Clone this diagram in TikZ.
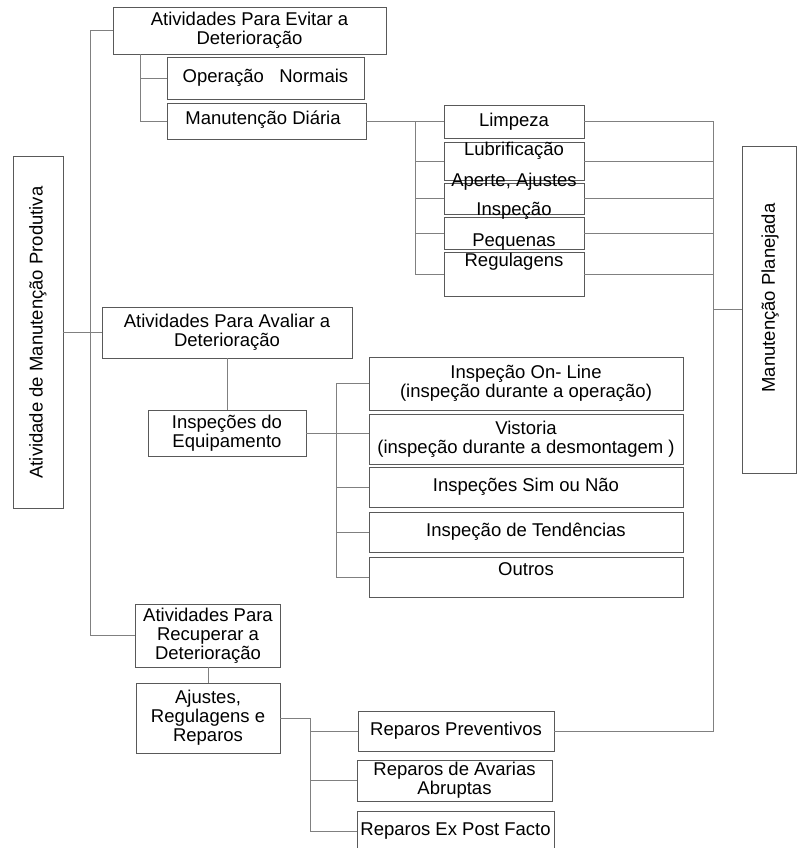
\documentclass[tikz,border=0pt]{standalone}
\usepackage{fontspec}
\setmainfont{Liberation Sans}
\tikzset{
    caixa/.style={draw=black!65, line width=0.9pt, inner sep=0pt, align=center,
        font=\fontsize{18.5}{19}\selectfont},
    rotulo/.style={inner sep=0pt, align=center, font=\fontsize{18.5}{19}\selectfont},
    liga/.style={draw=black!50, line width=0.8pt}
}
\begin{document}
\begin{tikzpicture}[x=1pt, y=-1pt]
\useasboundingbox (0,0) rectangle (804,848);
\clip (0,0) rectangle (804,848);
\coordinate (tronco) at (90,0);
\coordinate (ramoA) at (140,0);
\coordinate (ramoB) at (415,0);
\coordinate (ramoC) at (713,0);
\coordinate (ramoD) at (336,0);
\coordinate (ramoE) at (310,0);

\node[caixa, minimum width=50, minimum height=352] (prod) at (38,332.5) {};
\node[rotulo, rotate=90] (prodT) at (prod) {Atividade de Manutenção Produtiva};
\node[caixa, minimum width=273, minimum height=47] (evitar) at (249.5,30.5)
    {Atividades Para Evitar a\\Deterioração};
\node[caixa, minimum width=250, minimum height=51] (avaliar) at (227,332.5)
    {Atividades Para Avaliar a\\Deterioração};
\node[caixa, minimum width=145, minimum height=63] (recuperar) at (208,635.5)
    {Atividades Para\\Recuperar a\\Deterioração};

\node[caixa, minimum width=197, minimum height=42] (normais) at (265.5,78) {Operação\ \ \ Normais};
\node[caixa, minimum width=199, minimum height=36] (diaria) at (266.5,121) {};
\node[rotulo, anchor=base] (diariaT) at (263,124.5) {Manutenção Diária};

\node[caixa, minimum width=140, minimum height=33] (lim) at (514,121.5) {Limpeza};
\node[caixa, minimum width=140, minimum height=38] (lub) at (514,161) {};
\node[caixa, minimum width=140, minimum height=31] (ins) at (514,198.5) {};
\node[caixa, minimum width=140, minimum height=32] (peq) at (514,233) {};
\node[caixa, minimum width=140, minimum height=44] (reg) at (514,274) {};
\node[rotulo, anchor=base] (lubT) at (514,155.7) {Lubrificação};
\node[rotulo, anchor=base] (insT) at (514,186.7) {Aperte, Ajustes};
\node[rotulo, anchor=base] (peqT) at (514,215) {Inspeção};
\node[rotulo, anchor=base] (regT) at (514,246.7) {Pequenas};
\node[rotulo, anchor=base] (regT2) at (514,266.7) {Regulagens};

\node[caixa, minimum width=54, minimum height=327] (plan) at (769,309.5) {};
\node[rotulo, rotate=90] (planT) at (770,298) {Manutenção Planejada};

\node[caixa, minimum width=158, minimum height=46] (inspeq) at (227,433)
    {Inspeções do\\Equipamento};
\node[caixa, minimum width=314, minimum height=53] (online) at (526,383.5)
    {Inspeção On- Line\\(inspeção durante a operação)};
\node[caixa, minimum width=314, minimum height=50] (vistoria) at (526,439)
    {Vistoria\\(inspeção durante a desmontagem )};
\node[caixa, minimum width=314, minimum height=40] (simnao) at (526,487) {Inspeções Sim ou Não};
\node[caixa, minimum width=314, minimum height=40] (tend) at (526,532) {Inspeção de Tendências};
\node[caixa, minimum width=314, minimum height=40] (outros) at (526,577) {};
\node[rotulo, anchor=base] (outrosT) at (526,575) {Outros};

\node[caixa, minimum width=144, minimum height=70] (ajustes) at (208,718)
    {Ajustes,\\Regulagens e\\Reparos};
\node[caixa, minimum width=196, minimum height=40] (prev) at (456,731) {Reparos Preventivos};
\node[caixa, minimum width=195, minimum height=41] (avarias) at (454.5,780.5)
    {Reparos de Avarias\\Abruptas};
\node[caixa, minimum width=197, minimum height=40] (expost) at (455.5,831) {Reparos Ex Post Facto};

\draw[liga] (evitar.west) -| (tronco |- recuperar.west) -- (recuperar.west);
\draw[liga] (prod.east) -- (avaliar.west);
\draw[liga] (evitar.south -| ramoA) |- (diaria.west);
\draw[liga] (normais.west) -- (normais.west -| ramoA);
\draw[liga] (diaria.east) -| (ramoB |- reg.west) -- (reg.west);
\foreach \n in {lim,lub,ins,peq}
    \draw[liga] (\n.west) -- (\n.west -| ramoB);
\draw[liga] (lim.east) -| (ramoC |- prev.east) -- (prev.east);
\foreach \n in {lub,ins,peq,reg}
    \draw[liga] (\n.east) -- (\n.east -| ramoC);
\draw[liga] (plan.west) -- (plan.west -| ramoC);
\draw[liga] (avaliar.south) -- (inspeq.north);
\draw[liga] (online.west) -| (ramoD |- outros.west) -- (outros.west);
\draw[liga] (inspeq.east) -- (inspeq.east -| vistoria.west);
\foreach \n in {simnao,tend}
    \draw[liga] (\n.west) -- (\n.west -| ramoD);
\draw[liga] (recuperar.south) -- (ajustes.north);
\draw[liga] (ajustes.east) -| (ramoE |- expost.west) -- (expost.west);
\foreach \n in {prev,avarias}
    \draw[liga] (\n.west) -- (\n.west -| ramoE);
\end{tikzpicture}
\end{document}
